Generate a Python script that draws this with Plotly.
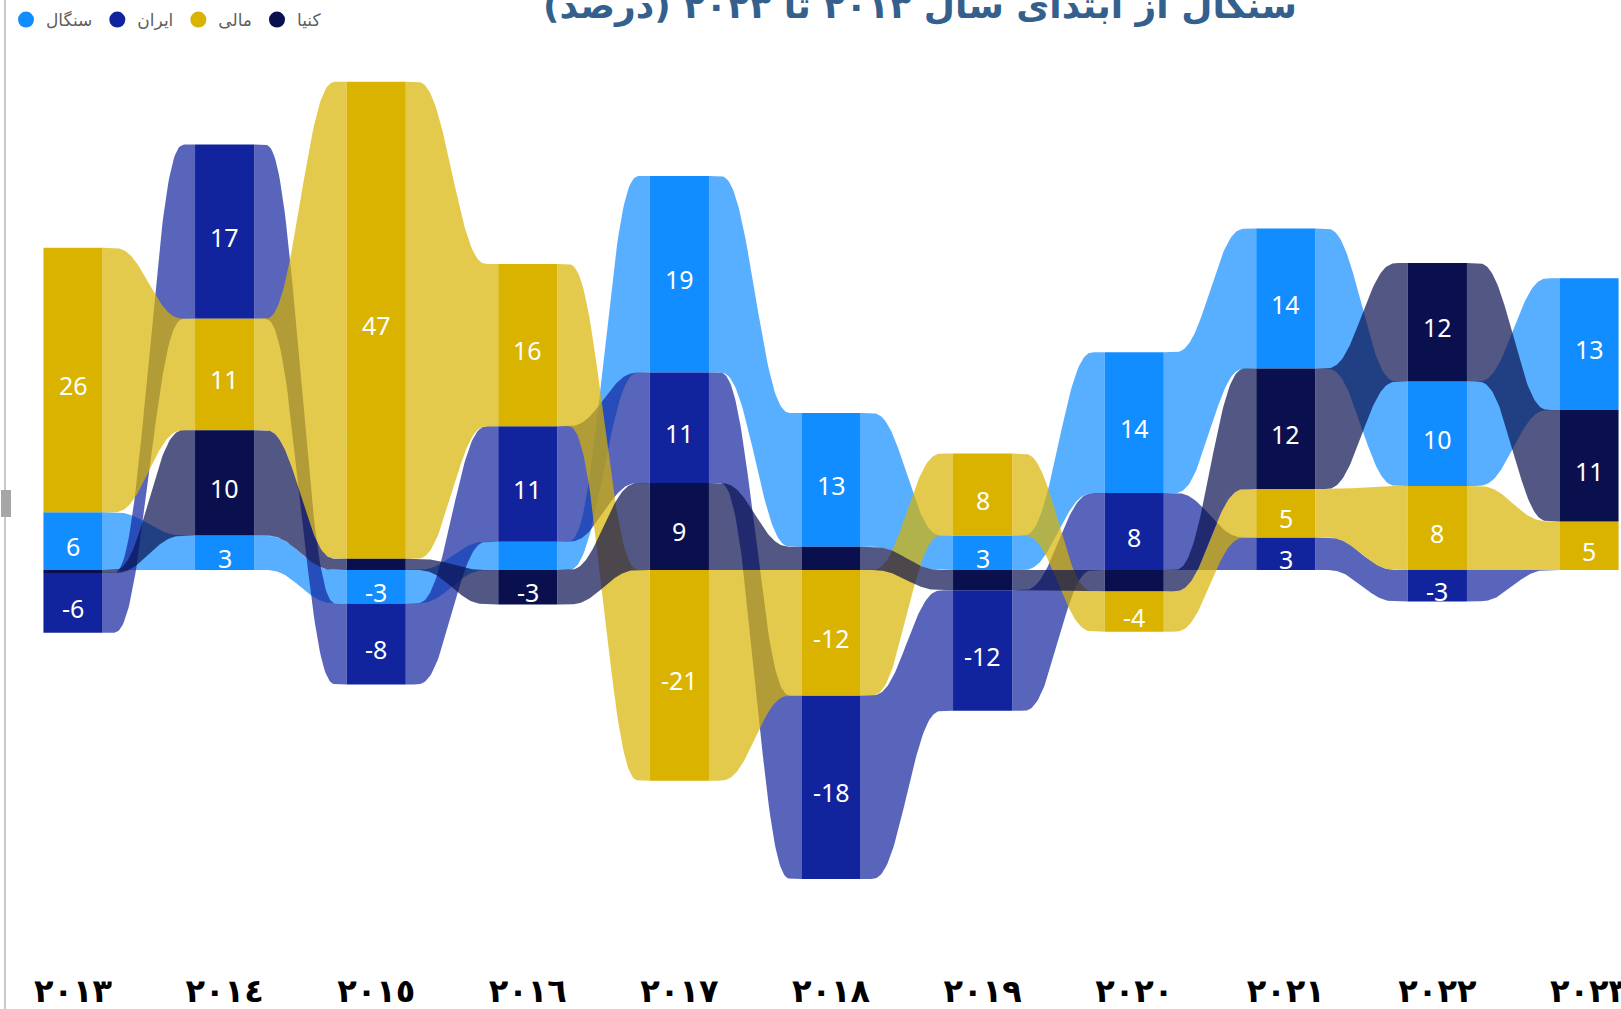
import numpy as np
import plotly.graph_objects as go

# ---------------- data ----------------
years = [2013, 2014, 2015, 2016, 2017, 2018, 2019, 2020, 2021, 2022, 2023]
tick_labels = ["٢٠١٣", "٢٠١٤", "٢٠١٥", "٢٠١٦", "٢٠١٧", "٢٠١٨",
               "٢٠١٩", "٢٠٢٠", "٢٠٢١", "٢٠٢٢", "٢٠٢٣"]

senegal = [5.7, 3.4, -3.3, 2.8, 19.4, 13.2, 3.4, 13.9, 13.8, 10.3, 13.0]
iran = [-5.9, 17.2, -8.0, 11.4, 10.9, -18.1, -11.9, 7.6, 3.2, -3.1, 0.0]
mali = [26.1, 11.0, 47.1, 16.0, -20.8, -12.4, 8.1, -4.0, 4.8, 8.3, 4.8]
kenya = [-0.3, 10.4, 1.1, -3.4, 8.6, 2.3, -2.0, -2.1, 11.9, 11.7, 11.0]

series_names = ["سنگال", "ایران", "مالی", "کنیا"]
series_values = [senegal, iran, mali, kenya]
series_colors = ["#118DFF", "#12239E", "#D9B300", "#0A104E"]

title_text = "سنگال از ابتدای سال ٢٠١٣ تا ٢٠٢٣ (درصد)"

# ---------------- layout constants ----------------
W, H = 1621, 1009
M_L, M_R, M_T, M_B = 0, 0, 40, 60
ZERO_PX = 570.0
PX_PER_UNIT = 10.13
X0_PX = 73.0
STEP_PX = 151.6
BW = 0.39  # bar width in category units

plot_h = H - M_T - M_B
y_top = (ZERO_PX - M_T) / PX_PER_UNIT
y_bot = (ZERO_PX - (H - M_B)) / PX_PER_UNIT
x_left = (M_L - X0_PX) / STEP_PX
x_right = (W - M_R - X0_PX) / STEP_PX


def rgba(hexc, a):
    hexc = hexc.lstrip("#")
    r, g, b = int(hexc[0:2], 16), int(hexc[2:4], 16), int(hexc[4:6], 16)
    return f"rgba({r},{g},{b},{a})"


# ---------------- stacking (ribbon chart logic) ----------------
n_years = len(years)
n_ser = len(series_names)
lo = np.zeros((n_ser, n_years))
hi = np.zeros((n_ser, n_years))
for j in range(n_years):
    pos = sorted([(series_values[s][j], s) for s in range(n_ser) if series_values[s][j] >= 0])
    neg = sorted([(series_values[s][j], s) for s in range(n_ser) if series_values[s][j] < 0], reverse=True)
    base = 0.0
    for v, s in pos:
        lo[s, j], hi[s, j] = base, base + v
        base += v
    top = 0.0
    for v, s in neg:
        hi[s, j], lo[s, j] = top, top + v
        top += v


def ease(t):
    u = np.clip((t - 0.10) / 0.80, 0, 1)
    return u ** 3 * (u * (6 * u - 15) + 10)


fig = go.Figure()

# ribbons
t = np.linspace(0, 1, 80)
s_ease = ease(t)
for s in range(n_ser):
    for j in range(n_years - 1):
        xa = j + BW / 2
        xb = j + 1 - BW / 2
        xs = xa + (xb - xa) * t
        top_edge = hi[s, j] + (hi[s, j + 1] - hi[s, j]) * s_ease
        bot_edge = lo[s, j] + (lo[s, j + 1] - lo[s, j]) * s_ease
        fig.add_trace(go.Scatter(
            x=np.concatenate([xs, xs[::-1]]),
            y=np.concatenate([top_edge, bot_edge[::-1]]),
            mode="lines", fill="toself",
            fillcolor=rgba(series_colors[s], 0.7),
            line=dict(width=0), hoverinfo="skip", showlegend=False,
        ))

# bars
xs_idx = list(range(n_years))
for s in range(n_ser):
    fig.add_trace(go.Bar(
        x=xs_idx, y=list(hi[s] - lo[s]), base=list(lo[s]), width=BW,
        marker=dict(color=series_colors[s], line=dict(width=0)),
        showlegend=False, hoverinfo="skip",
    ))

# data labels (annotations anchored at the band centres)
label_annots = []
for s in range(n_ser):
    for j in range(n_years):
        v = series_values[s][j]
        if abs(v) >= 2.95:
            label_annots.append(dict(
                x=j, y=(lo[s, j] + hi[s, j]) / 2, xref="x", yref="y",
                text=str(int(round(v))), showarrow=False, yshift=-5,
                font=dict(family="Noto Sans", size=25, color="white"),
            ))

# legend entries (circles)
for s in range(n_ser):
    fig.add_trace(go.Scatter(
        x=[None], y=[None], mode="markers", name=series_names[s],
        marker=dict(symbol="circle", size=16, color=series_colors[s]),
        showlegend=True,
    ))


def py(px):  # pixel y -> paper y
    return (H - M_B - px) / plot_h


def pxp(px):  # pixel x -> paper x
    return (px - M_L) / (W - M_L - M_R)


fig.update_layout(
    width=W, height=H,
    margin=dict(l=M_L, r=M_R, t=M_T, b=M_B, pad=0, autoexpand=False),
    paper_bgcolor="white", plot_bgcolor="white",
    barmode="overlay",
    hovermode=False,
    showlegend=True,
    legend=dict(orientation="h", x=pxp(6), y=py(2), xanchor="left", yanchor="top",
                font=dict(family="DejaVu Sans", size=17, color="#605E5C"),
                itemwidth=30, traceorder="normal", bgcolor="rgba(0,0,0,0)"),
    xaxis=dict(range=[x_left, x_right], tickmode="array", tickvals=xs_idx,
               ticktext=tick_labels, showgrid=False, zeroline=False, showline=False,
               ticks="", ticklabelstandoff=20, ticklabeloverflow="allow", automargin=False,
               tickfont=dict(family="DejaVu Sans", size=32, color="black", weight="bold"),
               fixedrange=True),
    yaxis=dict(range=[y_bot, y_top], showgrid=False, zeroline=False, showline=False,
               showticklabels=False, ticks="", fixedrange=True, automargin=False),
    annotations=label_annots + [dict(
        text=title_text, xref="paper", yref="paper", x=pxp(920), y=py(6),
        xanchor="center", yanchor="middle", showarrow=False,
        font=dict(family="DejaVu Sans", size=36, color="#34608D", weight="bold"),
    )],
    shapes=[
        dict(type="line", xref="paper", yref="paper", x0=pxp(5), x1=pxp(5),
             y0=py(H), y1=py(0), line=dict(color="#C8C8C8", width=2)),
        dict(type="rect", xref="paper", yref="paper", x0=pxp(1), x1=pxp(11),
             y0=py(517), y1=py(490), fillcolor="#A6A6A6", line=dict(width=0)),
    ],
)

fig.write_html("out.html", config={"displayModeBar": False},
               post_script="document.body.style.margin='0';document.body.style.overflow='hidden';")
